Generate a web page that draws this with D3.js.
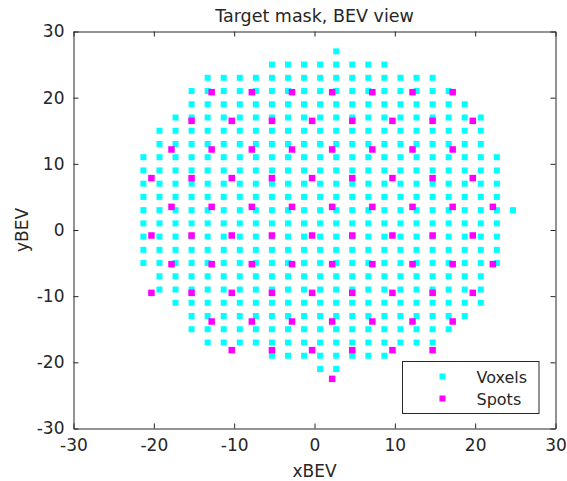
<!DOCTYPE html>
<html>
<head>
<meta charset="utf-8">
<script src="https://cdn.jsdelivr.net/npm/d3@7"></script>
<style>
  html, body { margin: 0; padding: 0; background: #fff; }
  svg { display: block; font-family: "DejaVu Sans", sans-serif; }
</style>
</head>
<body>
<svg id="chart" width="567" height="481"></svg>
<script>
// Voxel mask on a 2-unit grid: each row is given by its y and the x of its first and last voxel
const voxelPitch = 2;
const voxelRowY    = [27, 25, 23, 21, 19, 17, 15, 13, 11, 9, 7, 5, 3, 1, -1, -3, -5, -7, -9, -11, -13, -15, -17, -19, -21];
const voxelRowXMin = [2.7, -5.3, -13.3, -15.3, -15.3, -17.3, -19.3, -19.3, -21.3, -21.3, -21.3, -21.3, -21.3, -21.3, -21.3, -21.3, -21.3, -19.3, -19.3, -17.3, -15.3, -15.3, -13.3, -5.3, 0.7];
const voxelRowXMax = [2.7, 8.7, 14.7, 16.7, 18.7, 20.7, 20.7, 20.7, 22.7, 22.7, 22.7, 22.7, 24.7, 22.7, 22.7, 22.7, 22.7, 20.7, 20.7, 20.7, 18.7, 16.7, 14.7, 8.7, 2.7];

// Spot positions (hexagonal layout), one list of x values per row
const spotRowY = [20.83, 16.5, 12.17, 7.84, 3.5, -0.83, -5.16, -9.5, -13.83, -18.16, -22.5];
const spotRowX = [
  [-12.8, -7.8, -2.8, 2.2, 7.2, 12.2, 17.2],
  [-15.3, -10.3, -5.3, -0.3, 4.7, 9.7, 14.7, 19.7],
  [-17.8, -12.8, -7.8, -2.8, 2.2, 7.2, 12.2, 17.2],
  [-20.3, -15.3, -10.3, -5.3, -0.3, 4.7, 9.7, 14.7, 19.7],
  [-17.8, -12.8, -7.8, -2.8, 2.2, 7.2, 12.2, 17.2, 22.2],
  [-20.3, -15.3, -10.3, -5.3, -0.3, 4.7, 9.7, 14.7, 19.7],
  [-17.8, -12.8, -7.8, -2.8, 2.2, 7.2, 12.2, 17.2, 22.2],
  [-20.3, -15.3, -10.3, -5.3, -0.3, 4.7, 9.7, 14.7, 19.7],
  [-12.8, -7.8, -2.8, 2.2, 7.2, 12.2, 17.2],
  [-10.3, -5.3, -0.3, 4.7, 9.7, 14.7],
  [2.2]
];

const xTicks = [-30, -20, -10, 0, 10, 20, 30];
const yTicks = [-30, -20, -10, 0, 10, 20, 30];
const seriesNames = ["Voxels", "Spots"];
const titleText = "Target mask, BEV view";
const xLabelText = "xBEV";
const yLabelText = "yBEV";

// Expand the row extents into individual voxel points
const voxels = [];
voxelRowY.forEach((y, i) => {
  const n = Math.round((voxelRowXMax[i] - voxelRowXMin[i]) / voxelPitch);
  for (let k = 0; k <= n; k++) voxels.push({ x: voxelRowXMin[i] + k * voxelPitch, y });
});
const spots = [];
spotRowY.forEach((y, i) => spotRowX[i].forEach(x => spots.push({ x, y })));

const ink = "#262626";
const cyan = "#00ffff";
const magenta = "#ff00ff";

const plot = { left: 73.5, right: 555.5, top: 31.5, bottom: 428.5 };
const x = d3.scaleLinear().domain([-30, 30]).range([plot.left, plot.right]);
const y = d3.scaleLinear().domain([-30, 30]).range([plot.bottom, plot.top]);

const svg = d3.select("#chart");

// Markers
const mVox = 6, mSpot = 6.5;
svg.append("g").selectAll("rect").data(voxels).join("rect")
  .attr("x", d => x(d.x) - mVox / 2).attr("y", d => y(d.y) - mVox / 2)
  .attr("width", mVox).attr("height", mVox).attr("fill", cyan);
svg.append("g").selectAll("rect").data(spots).join("rect")
  .attr("x", d => x(d.x) - mSpot / 2).attr("y", d => y(d.y) - mSpot / 2)
  .attr("width", mSpot).attr("height", mSpot).attr("fill", magenta);

// Axes with inward ticks on all four sides (boxed); plain hyphen for negatives
const tickLen = 5;
const fmt = d => String(d);
const axisStyle = g => {
  g.select(".domain").attr("stroke", ink).attr("stroke-width", 1);
  g.selectAll(".tick line").attr("stroke", ink).attr("stroke-width", 1);
  g.selectAll(".tick text").attr("fill", ink).attr("font-size", 17)
    .attr("font-family", "DejaVu Sans, sans-serif");
};
svg.append("g").attr("transform", `translate(0,${plot.bottom})`)
  .call(d3.axisBottom(x).tickValues(xTicks).tickFormat(fmt).tickSizeInner(-tickLen).tickSizeOuter(0).tickPadding(10))
  .call(axisStyle);
svg.append("g").attr("transform", `translate(0,${plot.top})`)
  .call(d3.axisTop(x).tickValues(xTicks).tickSizeInner(-tickLen).tickSizeOuter(0).tickFormat(""))
  .call(axisStyle);
svg.append("g").attr("transform", `translate(${plot.left},0)`)
  .call(d3.axisLeft(y).tickValues(yTicks).tickFormat(fmt).tickSizeInner(-tickLen).tickSizeOuter(0).tickPadding(9))
  .call(axisStyle);
svg.append("g").attr("transform", `translate(${plot.right},0)`)
  .call(d3.axisRight(y).tickValues(yTicks).tickSizeInner(-tickLen).tickSizeOuter(0).tickFormat(""))
  .call(axisStyle);

// Title and axis labels
svg.append("text").attr("x", (plot.left + plot.right) / 2).attr("y", 22)
  .attr("text-anchor", "middle").attr("font-size", 17.5).attr("fill", ink).text(titleText);
svg.append("text").attr("x", (plot.left + plot.right) / 2).attr("y", 477)
  .attr("text-anchor", "middle").attr("font-size", 17).attr("fill", ink).text(xLabelText);
svg.append("text").attr("transform", `translate(28,${(plot.top + plot.bottom) / 2}) rotate(-90)`)
  .attr("text-anchor", "middle").attr("font-size", 17).attr("fill", ink).text(yLabelText);

// Legend
const lg = svg.append("g").attr("transform", "translate(402.5,361.5)");
lg.append("rect").attr("width", 136.5).attr("height", 52).attr("fill", "#fff")
  .attr("stroke", ink).attr("stroke-width", 1);
[cyan, magenta].forEach((c, i) => {
  const cy = 15 + i * 22;
  lg.append("rect").attr("x", 40 - 3).attr("y", cy - 3).attr("width", 6).attr("height", 6).attr("fill", c);
  lg.append("text").attr("x", 74).attr("y", cy + 6).attr("font-size", 16).attr("fill", ink).text(seriesNames[i]);
});
</script>
</body>
</html>
